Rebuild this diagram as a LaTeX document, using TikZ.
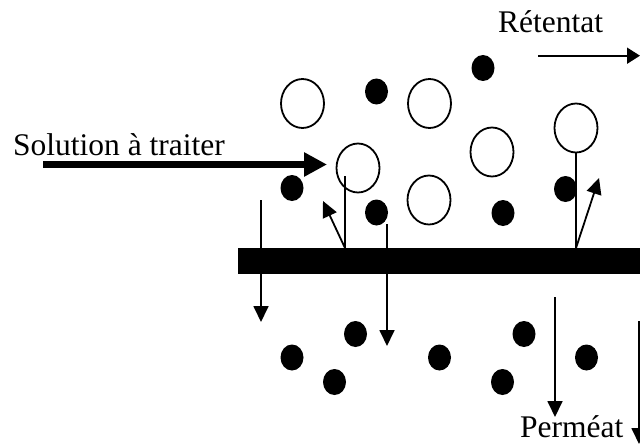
\documentclass[tikz,border=0pt]{standalone}
\usepackage{fontspec}
\setmainfont{Liberation Serif}
\usetikzlibrary{arrows.meta,shapes.geometric}
\begin{document}
\begin{tikzpicture}[x=1pt,y=-1pt,
  big/.style={draw,ellipse,line width=1.8pt,minimum width=43pt,minimum height=49pt,inner sep=0pt},
  small/.style={fill,ellipse,minimum width=23pt,minimum height=26pt,inner sep=0pt},
  flow/.style={line width=1.8pt,-{Triangle[length=16pt,width=15pt]}},
  stem/.style={line width=1.8pt},
  lbl/.style={font=\fontsize{31.5}{36}\selectfont,inner sep=0pt,anchor=base west}]
\useasboundingbox (0,0) rectangle (640,444);
\clip (0,0) rectangle (640,444);
% texts
\node[lbl] (sol) at (13,155) {Solution à traiter};
\node[lbl] (ret) at (498,33) {Rétentat};
\node[lbl] (perm) at (520,437) {Perméat};
% membrane
\fill (238,248) rectangle (650,274);
% large particles
\node[big] (c1) at (302.5,103.5) {};
\node[big] (c2) at (429.5,103.5) {};
\node[big] (c3) at (358,168) {};
\node[big] (c4) at (492,152) {};
\node[big] (c5) at (429,200) {};
\node[big] (c6) at (576,128) {};
% small particles above
\node[small] (d1) at (376.5,91.5) {};
\node[small] (d2) at (483,68) {};
\node[small] (d3) at (292,188) {};
\node[small] (d4) at (376.5,212.5) {};
\node[small] (d5) at (503,213) {};
\node[small] (d6) at (565.5,189) {};
% small particles below
\node[small] (e1) at (292,357.5) {};
\node[small] (e2) at (355.5,334) {};
\node[small] (e3) at (334.5,382) {};
\node[small] (e4) at (439.5,357.5) {};
\node[small] (e5) at (524,334) {};
\node[small] (e6) at (502.5,382) {};
\node[small] (e7) at (586.5,357.5) {};
% feed arrow
\coordinate (f0) at (43,164.5);
\coordinate (f1) at (327,164.5);
\draw[line width=7.6pt,-{Triangle[length=23pt,width=23pt]}] (f0) -- (f1);
% retentate arrow
\coordinate (r0) at (538,55.7);
\coordinate (r1) at (640,55.7);
\draw[line width=1.8pt,-{Triangle[length=13pt,width=16pt]}] (r0) -- (r1);
% stems and rebound arrows
\coordinate (s3) at (345,176);
\coordinate (b3) at (345,248);
\coordinate (t3) at (323,201);
\draw[stem] (s3) -- (b3);
\draw[flow] (b3) -- (t3);
\coordinate (b6) at (576,248);
\coordinate (t6) at (599,178);
\draw[stem] (c6.south) -- (b6);
\draw[flow] (b6) -- (t6);
% permeation arrows
\coordinate (p1a) at (261,200);
\coordinate (p1b) at (261,322);
\draw[flow] (p1a) -- (p1b);
\coordinate (p2a) at (387,224);
\coordinate (p2b) at (387,346);
\draw[flow] (p2a) -- (p2b);
\coordinate (p3a) at (555,297);
\coordinate (p3b) at (555,417);
\draw[flow] (p3a) -- (p3b);
\coordinate (p4a) at (639,321);
\coordinate (p4b) at (639,444);
\draw[flow] (p4a) -- (p4b);
\end{tikzpicture}
\end{document}
